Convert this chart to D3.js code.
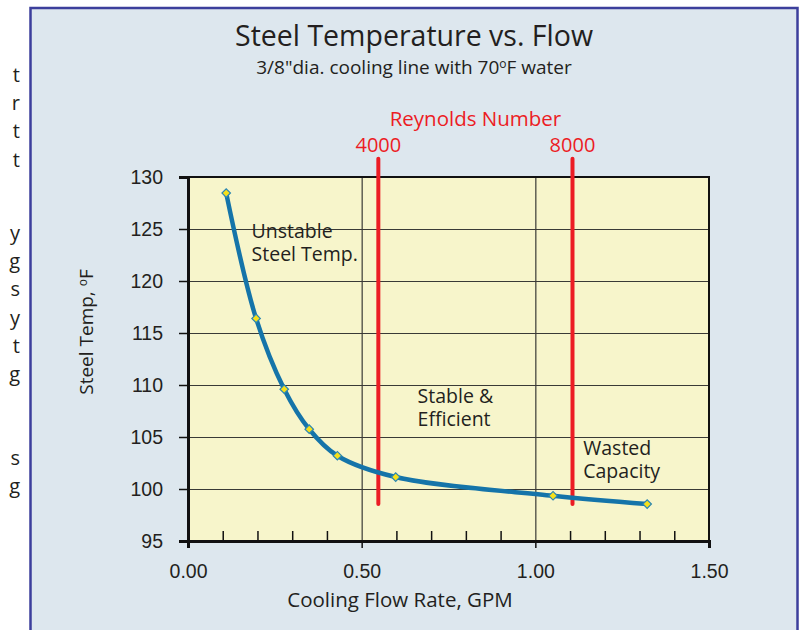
<!DOCTYPE html>
<html>
<head>
<meta charset="utf-8">
<script src="https://cdn.jsdelivr.net/npm/d3@7"></script>
<style>
  body { margin: 0; background: #fff; }
  svg { display: block; font-family: "Open Sans", sans-serif; }
</style>
</head>
<body>
<div id="chart"></div>
<script>
// data
var flowGPM = [0.11, 0.196, 0.277, 0.349, 0.43, 0.598, 1.051, 1.322];
var steelTemp = [128.45, 116.4, 109.6, 105.75, 103.2, 101.15, 99.35, 98.55];
var yTicks = [95, 100, 105, 110, 115, 120, 125, 130];
var xTicks = [0, 0.5, 1.0, 1.5];
var xMinorTicks = [0.1, 0.2, 0.3, 0.4, 0.6, 0.7, 0.8, 0.9, 1.1, 1.2, 1.3, 1.4];
var reynoldsLabels = ['4000', '8000'];
var reynoldsFlow = [0.548, 1.107];
var reynoldsTop = 131.75, reynoldsBottom = 98.55;
var regionNotes = [
    {lines: ['Unstable', 'Steel Temp.'], flow: 0.183, temp: 124.1},
    {lines: ['Stable &', 'Efficient'], flow: 0.661, temp: 108.3},
    {lines: ['Wasted', 'Capacity'], flow: 1.138, temp: 103.3}
];
// the ends of the page's body text, cut off by the figure
var sideBlocks = [
    {top: 82, letters: ['t', 'r', 't', 't']},
    {top: 240, letters: ['y', 'g', 's', 'y', 't', 'g']},
    {top: 465, letters: ['s', 'g']}
];

var width = 805, height = 630;
var margin = {top: 177, right: 96, bottom: 89, left: 188};

var svg = d3.select('#chart')
    .append('svg')
    .attr('width', width)
    .attr('height', height);

sideBlocks.forEach(function(b) {
    svg.append('g')
        .selectAll('text')
        .data(b.letters)
        .enter().append('text')
        .attr('x', 20)
        .attr('y', function(d, i) { return b.top + i * 28.2; })
        .attr('text-anchor', 'end')
        .style('font-size', '20px')
        .style('fill', '#231f20')
        .text(function(d) { return d; });
});

// panel
svg.append('rect')
    .attr('x', 30.5)
    .attr('y', 8)
    .attr('width', 767)
    .attr('height', 640)
    .attr('fill', '#dde7ee')
    .attr('stroke', '#3c3f9c')
    .attr('stroke-width', 2.5);

var x = d3.scaleLinear()
    .domain([0, 1.5])
    .range([margin.left, width - margin.right]);

var y = d3.scaleLinear()
    .domain([95, 130])
    .range([height - margin.bottom, margin.top]);

// plot area
svg.append('rect')
    .attr('x', x(0))
    .attr('y', y(130))
    .attr('width', x(1.5) - x(0))
    .attr('height', y(95) - y(130))
    .attr('fill', '#f7f5cb');

// grid
svg.append('g')
    .attr('class', 'grid')
    .attr('transform', 'translate(' + x(0) + ',0)')
    .call(d3.axisLeft(y).tickValues(yTicks.slice(1, -1)).tickSize(-(x(1.5) - x(0))).tickFormat(''))
    .call(function(g) { g.select('.domain').remove(); })
    .selectAll('line')
    .attr('stroke', '#3a3a36')
    .attr('stroke-width', 1.2);

svg.append('g')
    .attr('transform', 'translate(0,' + y(95) + ')')
    .call(d3.axisTop(x).tickValues([0.5, 1.0]).tickSize(y(95) - y(130)).tickFormat(''))
    .call(function(g) { g.select('.domain').remove(); })
    .selectAll('line')
    .attr('stroke', '#3a3a36')
    .attr('stroke-width', 1.2);

// minor ticks on the bottom axis
svg.append('g')
    .attr('transform', 'translate(0,' + y(95) + ')')
    .call(d3.axisTop(x).tickValues(xMinorTicks).tickSize(10).tickFormat(''))
    .call(function(g) { g.select('.domain').remove(); })
    .selectAll('line')
    .attr('stroke', '#111')
    .attr('stroke-width', 1.5);

// frame
svg.append('rect')
    .attr('x', x(0))
    .attr('y', y(130))
    .attr('width', x(1.5) - x(0))
    .attr('height', y(95) - y(130))
    .attr('fill', 'none')
    .attr('stroke', '#111')
    .attr('stroke-width', 2);

// y axis
var yAxis = svg.append('g')
    .attr('transform', 'translate(' + x(0) + ',0)')
    .call(d3.axisLeft(y).tickValues(yTicks).tickSize(9).tickPadding(16).tickFormat(d3.format('d')));
yAxis.select('.domain').attr('stroke', '#111').attr('stroke-width', 3);
yAxis.selectAll('line').attr('stroke', '#111').attr('stroke-width', 1.5);
yAxis.selectAll('text').style('font-size', '19.5px').style('fill', '#231f20');

// x axis
var xAxis = svg.append('g')
    .attr('transform', 'translate(0,' + y(95) + ')')
    .call(d3.axisBottom(x).tickValues(xTicks).tickSize(7).tickPadding(16).tickFormat(d3.format('.2f')));
xAxis.select('.domain').attr('stroke', '#111').attr('stroke-width', 3);
xAxis.selectAll('line').attr('stroke', '#111').attr('stroke-width', 1.5);
xAxis.selectAll('text').style('font-size', '19.5px').style('fill', '#231f20');

// reynolds markers
svg.append('g')
    .selectAll('line')
    .data(reynoldsFlow)
    .enter().append('line')
    .attr('x1', function(d) { return x(d); })
    .attr('x2', function(d) { return x(d); })
    .attr('y1', y(reynoldsTop))
    .attr('y2', y(reynoldsBottom))
    .attr('stroke', '#ec1c24')
    .attr('stroke-width', 4)
    .attr('stroke-linecap', 'round');

svg.append('g')
    .selectAll('text')
    .data(reynoldsFlow)
    .enter().append('text')
    .attr('x', function(d) { return x(d); })
    .attr('y', 152)
    .attr('text-anchor', 'middle')
    .style('font-size', '20px')
    .style('fill', '#ec1c24')
    .text(function(d, i) { return reynoldsLabels[i]; });

svg.append('text')
    .attr('x', x((reynoldsFlow[0] + reynoldsFlow[1]) / 2))
    .attr('y', 126)
    .attr('text-anchor', 'middle')
    .style('font-size', '20.5px')
    .style('fill', '#ec1c24')
    .text('Reynolds Number');

// curve
var points = flowGPM.map(function(f, i) { return [f, steelTemp[i]]; });
var line = d3.line()
    .x(function(d) { return x(d[0]); })
    .y(function(d) { return y(d[1]); })
    .curve(d3.curveCatmullRom.alpha(0.5));

svg.append('path')
    .datum(points)
    .attr('d', line)
    .attr('fill', 'none')
    .attr('stroke', '#1574a9')
    .attr('stroke-width', 4.5)
    .attr('stroke-linejoin', 'round');

svg.append('g')
    .selectAll('path')
    .data(points)
    .enter().append('path')
    .attr('transform', function(d) { return 'translate(' + x(d[0]) + ',' + y(d[1]) + ') rotate(45)'; })
    .attr('d', 'M-3,-3H3V3H-3Z')
    .attr('fill', '#f6e01a')
    .attr('stroke', '#2a86b4')
    .attr('stroke-width', 1.2);

// region notes, one text per line
regionNotes.forEach(function(n) {
    svg.append('g')
        .selectAll('text')
        .data(n.lines)
        .enter().append('text')
        .attr('x', x(n.flow))
        .attr('y', function(d, i) { return y(n.temp) + i * 23; })
        .style('font-size', '19.5px')
        .style('fill', '#231f20')
        .text(function(d) { return d; });
});

// titles
svg.append('text')
    .attr('x', 414)
    .attr('y', 46)
    .attr('text-anchor', 'middle')
    .style('font-size', '28.5px')
    .style('fill', '#231f20')
    .text('Steel Temperature vs. Flow');

var sub = svg.append('text')
    .attr('x', 414)
    .attr('y', 74)
    .attr('text-anchor', 'middle')
    .style('font-size', '19px')
    .style('fill', '#231f20');
sub.append('tspan').text('3/8"dia. cooling line with 70');
sub.append('tspan').attr('dy', -6).style('font-size', '12px').text('o');
sub.append('tspan').attr('dy', 6).text('F water');

svg.append('text')
    .attr('x', 400)
    .attr('y', 607)
    .attr('text-anchor', 'middle')
    .style('font-size', '20.5px')
    .style('fill', '#231f20')
    .text('Cooling Flow Rate, GPM');

var yTitle = svg.append('text')
    .attr('transform', 'translate(93,332) rotate(-90)')
    .attr('text-anchor', 'middle')
    .style('font-size', '19px')
    .style('fill', '#231f20');
yTitle.append('tspan').text('Steel Temp, ');
yTitle.append('tspan').attr('dy', -6).style('font-size', '12px').text('o');
yTitle.append('tspan').attr('dy', 6).text('F');
</script>
</body>
</html>
